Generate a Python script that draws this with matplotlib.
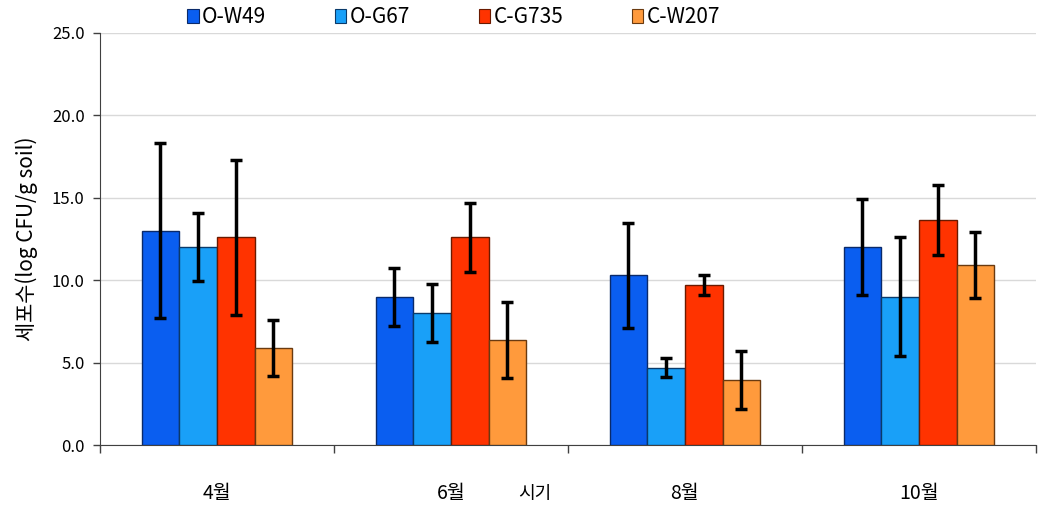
import matplotlib
matplotlib.use("Agg")
import matplotlib.pyplot as plt
import numpy as np
from matplotlib.patches import Patch

plt.rcParams['font.family'] = ['Noto Sans CJK KR', 'DejaVu Sans']

categories = ['4월', '6월', '8월', '10월']
series = ['O-W49', 'O-G67', 'C-G735', 'C-W207']
values = {
    'O-W49': [13.0, 9.0, 10.3, 12.0],
    'O-G67': [12.0, 8.0, 4.7, 9.0],
    'C-G735': [12.6, 12.6, 9.7, 13.65],
    'C-W207': [5.9, 6.35, 3.95, 10.95],
}
errors = {
    'O-W49': [5.3, 1.75, 3.2, 2.9],
    'O-G67': [2.05, 1.75, 0.6, 3.6],
    'C-G735': [4.7, 2.1, 0.6, 2.1],
    'C-W207': [1.7, 2.3, 1.75, 2.0],
}
colors = ['#0A5EF0', '#19A0F8', '#FF3300', '#FF9A3C']
edges = ['#0A2A6A', '#0A3A6A', '#6A1A00', '#6A3A10']

fig = plt.figure(figsize=(10.38, 5.09), dpi=100)
ax = fig.add_axes([0.0963, 0.1257, 0.9017, 0.8095])

x = np.arange(len(categories))
w = 0.161
for i, s in enumerate(series):
    pos = x + (i - 1.5) * w
    ax.bar(pos, values[s], width=w, color=colors[i], edgecolor=edges[i], linewidth=1.0, zorder=3)
    ax.errorbar(pos, values[s], yerr=errors[s], fmt='none', ecolor='black',
                elinewidth=2.5, capsize=4, capthick=2.5, zorder=4)

ax.set_xlim(-0.5, len(categories) - 0.5)
ax.set_ylim(0, 25)
ax.set_yticks(np.arange(0, 25.1, 5))
ax.set_yticklabels([f'{v:.1f}' for v in np.arange(0, 25.1, 5)], fontsize=12)
ax.yaxis.grid(True, color='#D9D9D9', linewidth=1.0, zorder=0)
ax.set_axisbelow(True)

ax.set_xticks(np.arange(-0.5, len(categories), 1.0))
ax.set_xticklabels([])
ax.set_xticks(x, minor=True)
ax.set_xticklabels(categories, minor=True, fontsize=14)
ax.tick_params(axis='x', which='major', length=6, width=1, direction='out', color='#404040')
ax.tick_params(axis='x', which='minor', length=0, pad=27)
ax.tick_params(axis='y', length=5, width=1, direction='out', color='#404040', pad=6)

for sp in ['top', 'right']:
    ax.spines[sp].set_visible(False)
ax.spines['left'].set_color('#404040')
ax.spines['bottom'].set_color('#404040')

ax.set_ylabel('세포수(log CFU/g soil)', fontsize=15, labelpad=10)
fig.text(0.5155, 0.03, '시기', fontsize=13, ha='center', va='center')

handles = [Patch(facecolor=colors[i], edgecolor=edges[i], linewidth=0.8) for i in range(4)]
fig.legend(handles, series, loc='upper center', bbox_to_anchor=(0.437, 1.025), ncol=4,
           frameon=False, fontsize=15, handlelength=0.55, handleheight=0.65,
           handletextpad=0.15, columnspacing=3.3)

fig.savefig('out.png', dpi=100)
